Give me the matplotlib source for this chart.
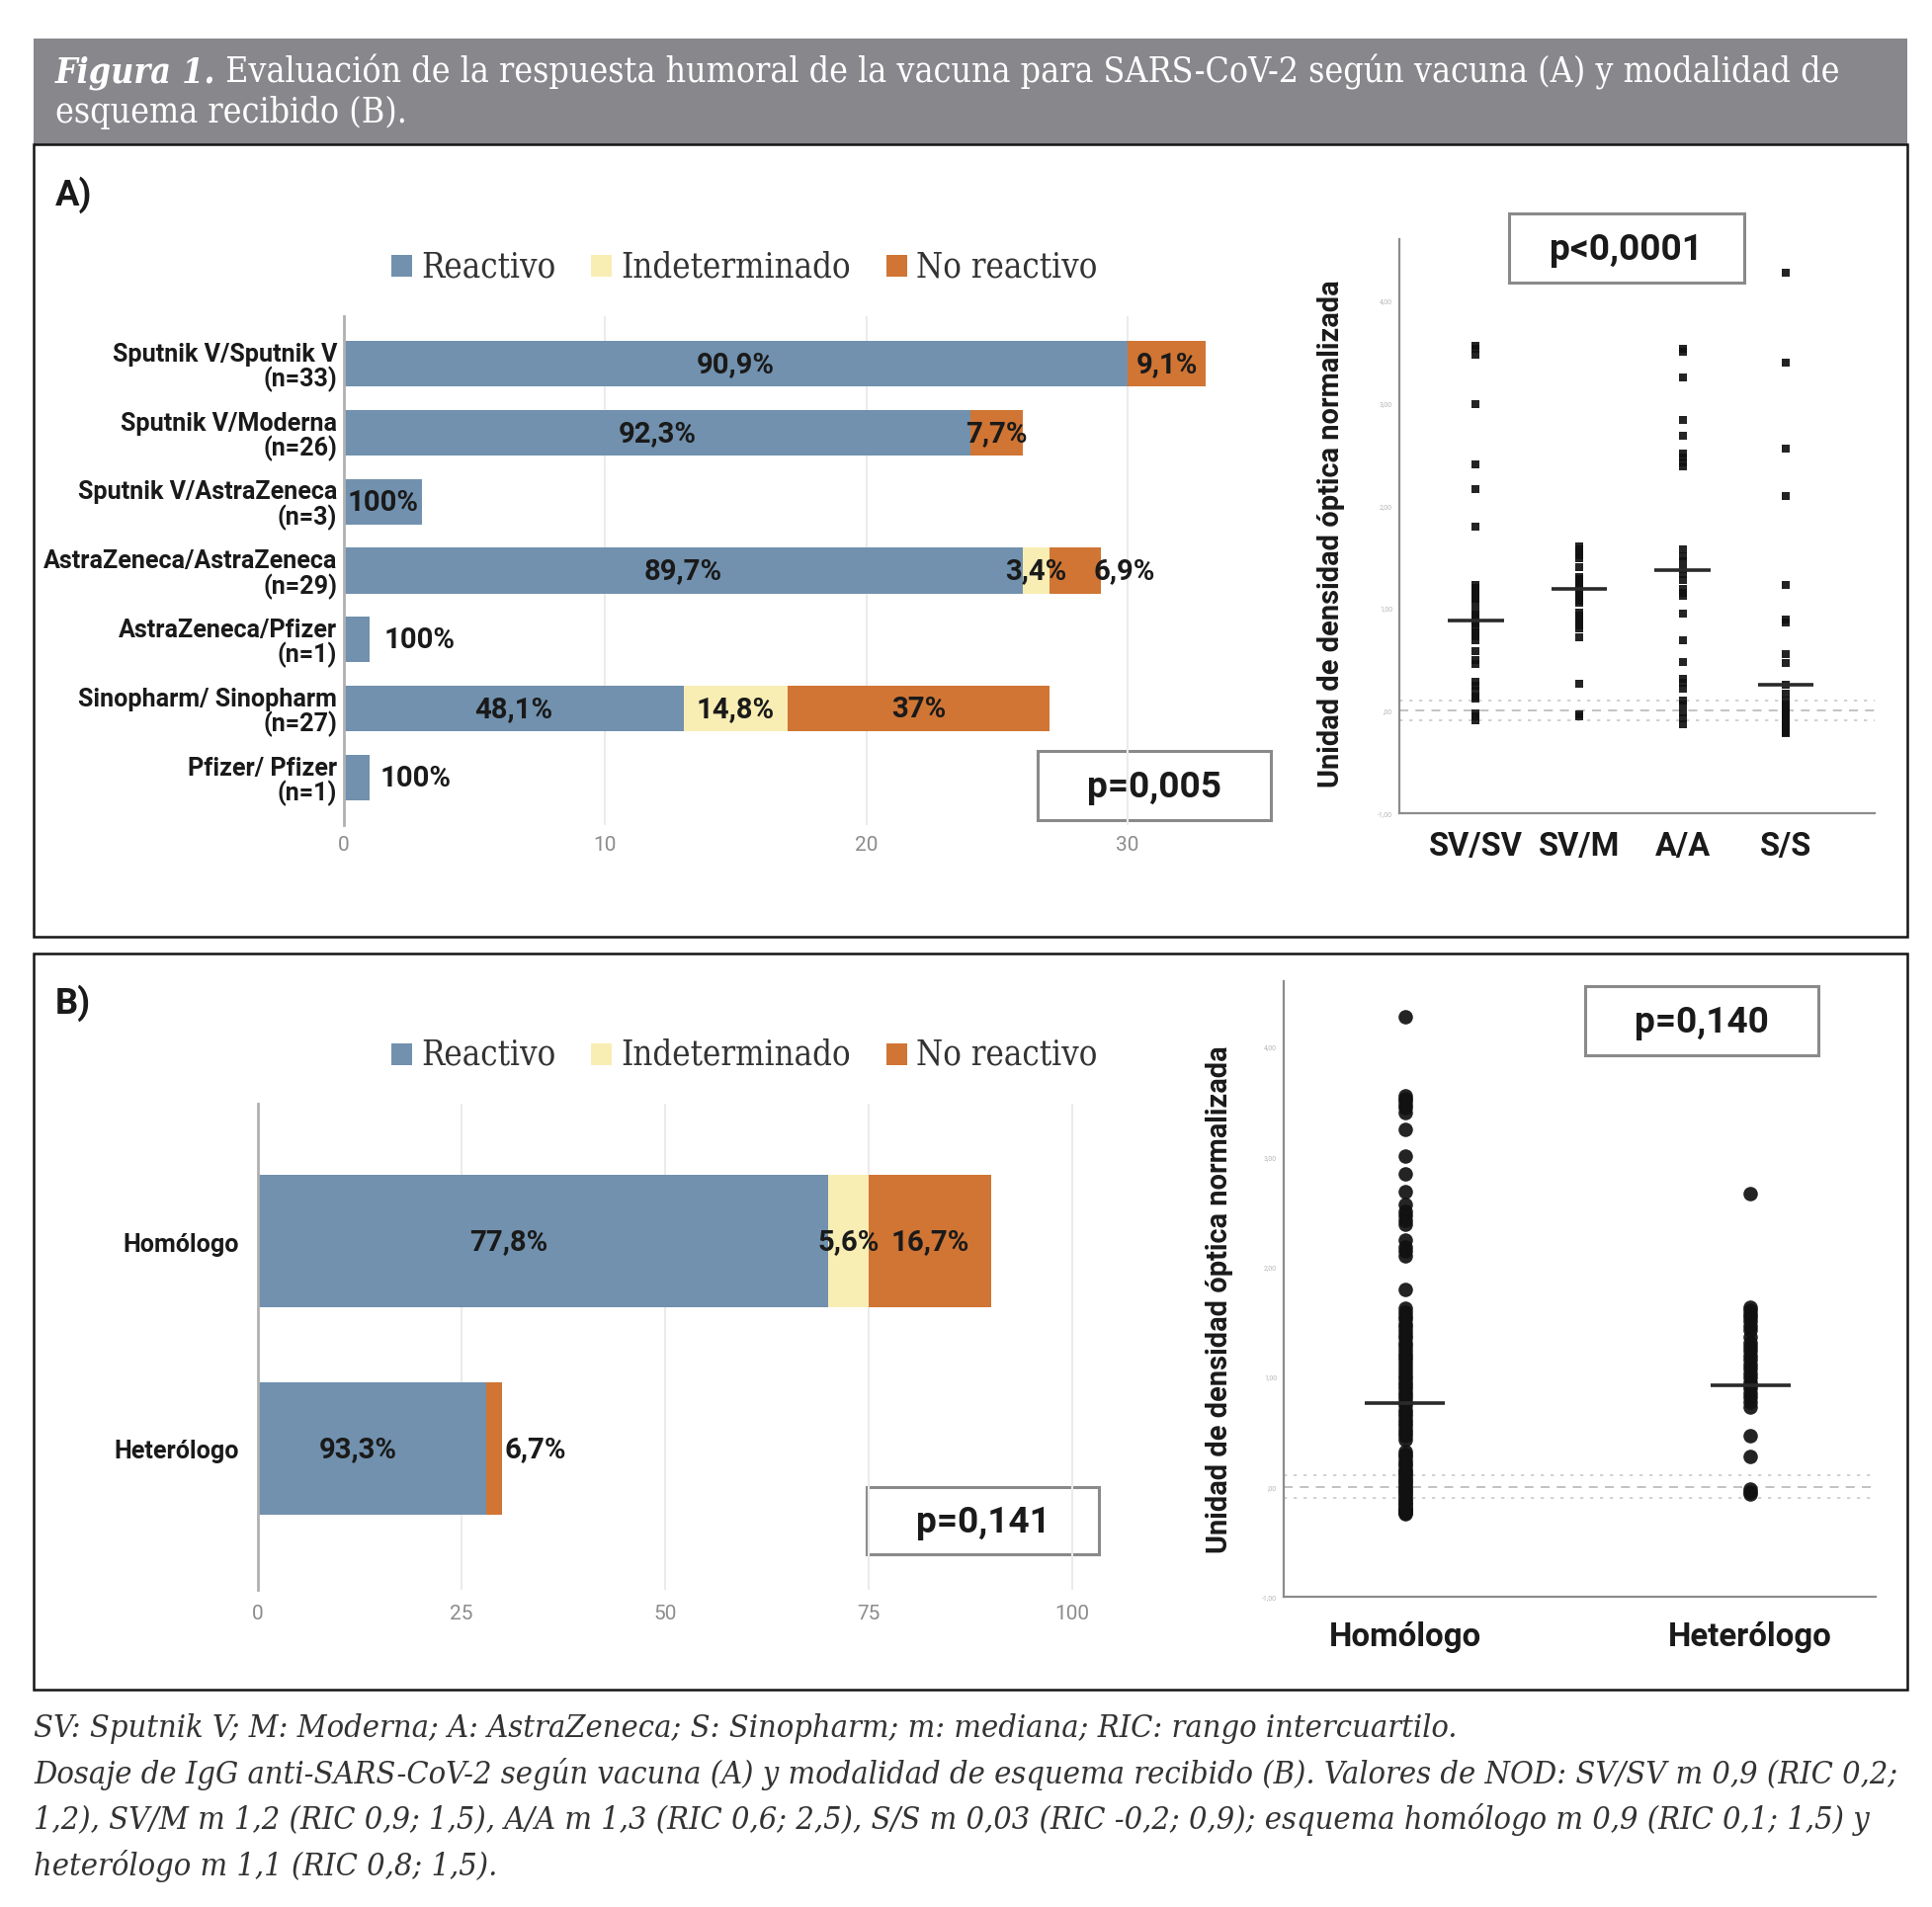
import matplotlib
matplotlib.use('Agg')
import matplotlib.pyplot as plt
from matplotlib.patches import Rectangle
from matplotlib import font_manager as fm
import numpy as np

plt.rcParams['font.family'] = ['Roboto', 'DejaVu Sans']

# ---------------- data ----------------
schemes_a = ['Sputnik V/Sputnik V\n(n=33)', 'Sputnik V/Moderna\n(n=26)',
             'Sputnik V/AstraZeneca\n(n=3)', 'AstraZeneca/AstraZeneca\n(n=29)',
             'AstraZeneca/Pfizer\n(n=1)', 'Sinopharm/ Sinopharm\n(n=27)',
             'Pfizer/ Pfizer\n(n=1)']
reactivo_a = [30, 24, 3, 26, 1, 13, 1]
indet_a = [0, 0, 0, 1, 0, 4, 0]
noreact_a = [3, 2, 0, 2, 0, 10, 0]
pct_reactivo_a = ['90,9%', '92,3%', '100%', '89,7%', '100%', '48,1%', '100%']
pct_indet_a = ['', '', '', '3,4%', '', '14,8%', '']
pct_noreact_a = ['9,1%', '7,7%', '', '6,9%', '', '37%', '']
xticks_a = [0, 10, 20, 30]

schemes_b = ['Homólogo', 'Heterólogo']
reactivo_b = [70, 28]
indet_b = [5, 0]
noreact_b = [15, 2]
pct_reactivo_b = ['77,8%', '93,3%']
pct_indet_b = ['5,6%', '']
pct_noreact_b = ['16,7%', '6,7%']
xticks_b = [0, 25, 50, 75, 100]

legend_labels = ['Reactivo', 'Indeterminado', 'No reactivo']

groups_a = ['SV/SV', 'SV/M', 'A/A', 'S/S']
nod_sv_sv = [3.55, 3.52, 3.46, 2.98, 2.40, 2.16, 1.79, 1.22, 1.19, 1.16, 1.13,
             1.09, 1.05, 0.97, 0.93, 0.90, 0.88, 0.85, 0.80, 0.76, 0.72, 0.68,
             0.58, 0.49, 0.45, 0.28, 0.24, 0.19, 0.14, 0.12, -0.03, -0.06, -0.10]
nod_sv_m = [1.60, 1.57, 1.54, 1.51, 1.48, 1.40, 1.30, 1.28, 1.25, 1.22, 1.20,
            1.17, 1.13, 1.10, 1.07, 1.05, 0.95, 0.92, 0.89, 0.86, 0.83, 0.80,
            0.71, 0.26, -0.04, -0.06]
nod_a_a = [3.52, 3.49, 3.24, 2.83, 2.68, 2.50, 2.46, 2.42, 2.38, 1.57, 1.50,
           1.45, 1.38, 1.33, 1.27, 1.18, 1.15, 1.12, 0.94, 0.68, 0.47, 0.31,
           0.27, 0.21, 0.10, 0.06, -0.02, -0.08, -0.13]
nod_s_s = [4.26, 3.39, 2.55, 2.09, 1.22, 0.89, 0.86, 0.55, 0.46, 0.25, 0.16,
           0.10, 0.06, 0.03, 0.01, -0.03, -0.05, -0.08, -0.10, -0.14, -0.16,
           -0.18, -0.20, -0.22, -0.19, -0.21, -0.17]
medians_a = [0.88, 1.18, 1.37, 0.25]

groups_b = ['Homólogo', 'Heterólogo']
nod_hom = [4.27, 3.55, 3.52, 3.50, 3.47, 3.44, 3.40, 3.24, 3.00, 2.84, 2.68,
           2.56, 2.50, 2.46, 2.42, 2.38, 2.24, 2.18, 2.14, 2.10, 1.79,
           1.62, 1.58, 1.55, 1.52, 1.48, 1.45, 1.41, 1.38, 1.35, 1.31, 1.28,
           1.24, 1.21, 1.18, 1.15, 1.12, 1.08, 1.05, 1.01, 0.98, 0.95, 0.92,
           0.89, 0.86, 0.83, 0.80, 0.77, 0.74, 0.70, 0.67, 0.64, 0.61, 0.58,
           0.55, 0.52, 0.49, 0.46, 0.43,
           0.32, 0.29, 0.27, 0.24, 0.21, 0.19, 0.16, 0.14, 0.12, 0.10, 0.08,
           0.06, 0.04, 0.02, 0.00, -0.02, -0.04, -0.06, -0.08, -0.10, -0.12,
           -0.14, -0.16, -0.17, -0.19, -0.20, -0.21, -0.22, -0.23, -0.24, -0.25]
nod_het = [2.66, 1.63, 1.60, 1.57, 1.54, 1.50, 1.46, 1.42, 1.36, 1.31, 1.27,
           1.23, 1.19, 1.15, 1.11, 1.07, 1.03, 0.99, 0.95, 0.92, 0.89, 0.85,
           0.81, 0.77, 0.72, 0.46, 0.27, -0.02, -0.05, -0.07]
medians_b = [0.76, 0.92]

nod_ticks = [-1, 0, 1, 2, 3, 4]
nod_tick_labels = ['-1,00', ',00', '1,00', '2,00', '3,00', '4,00']
p_values = ['p=0,005', 'p<0,0001', 'p=0,141', 'p=0,140']

title_pieces = [('Figura 1.', 'bold', 'italic'),
                (' Evaluación de la respuesta humoral de la vacuna para SARS-CoV-2 según vacuna (A) y modalidad de', 'normal', 'normal')]
title_line2 = 'esquema recibido (B).'
caption_lines = [
    'SV: Sputnik V; M: Moderna; A: AstraZeneca; S: Sinopharm; m: mediana; RIC: rango intercuartilo.',
    'Dosaje de IgG anti-SARS-CoV-2 según vacuna (A) y modalidad de esquema recibido (B). Valores de NOD: SV/SV m 0,9 (RIC 0,2;',
    '1,2), SV/M m 1,2 (RIC 0,9; 1,5), A/A m 1,3 (RIC 0,6; 2,5), S/S m 0,03 (RIC -0,2; 0,9); esquema homólogo m 0,9 (RIC 0,1; 1,5) y',
    'heterólogo m 1,1 (RIC 0,8; 1,5).',
]
ylabel_nod = 'Unidad de densidad óptica normalizada'

# ---------------- style ----------------
C_R, C_I, C_N = '#7191AE', '#F8EDB3', '#D07534'
_entries = fm.fontManager.ttflist
_names = {f.name for f in _entries}
if 'DejaVu Serif Condensed' in _names:
    SERIF_KW = dict(family=['DejaVu Serif Condensed', 'DejaVu Serif'])
elif any(f.name == 'DejaVu Serif' and 'condensed' in str(f.stretch) for f in _entries):
    SERIF_KW = dict(family=['DejaVu Serif'], fontstretch='condensed')
else:
    SERIF_KW = dict(family=['DejaVu Serif'])
SANS = ['Roboto', 'DejaVu Sans']

W, H = 1955, 1931
fig = plt.figure(figsize=(W / 100, H / 100), dpi=100)
fig.patch.set_facecolor('white')
bg = fig.add_axes([0, 0, 1, 1], zorder=0)
bg.set_xlim(0, W)
bg.set_ylim(H, 0)
bg.axis('off')
renderer = fig.canvas.get_renderer()


def axrect(x0, y0, x1, y1):
    return [x0 / W, 1 - y1 / H, (x1 - x0) / W, (y1 - y0) / H]


def fit_fs(s, target, **kw):
    t = bg.text(0, 0, s, fontsize=10, **kw)
    w = t.get_window_extent(renderer).width
    t.remove()
    return 10 * target / w


# header and panel frames
bg.add_patch(Rectangle((34, 40), 1896, 107, color='#88878C', lw=0))
bg.add_patch(Rectangle((34, 147), 1896, 802, fill=False, ec='#151515', lw=1.8))
bg.add_patch(Rectangle((34, 966), 1896, 745, fill=False, ec='#151515', lw=1.8))

# title (rich text, fitted to width)
tmp_w = 0
for s, wgt, sty in title_pieces:
    t = bg.text(0, 0, s, fontsize=10, fontweight=wgt, fontstyle=sty, **SERIF_KW)
    tmp_w += t.get_window_extent(renderer).width
    t.remove()
fs_title = 10 * 1800 / tmp_w
cx = 56
for s, wgt, sty in title_pieces:
    t = bg.text(cx, 83, s, fontsize=fs_title, fontweight=wgt, fontstyle=sty,
                color='white', va='baseline', ha='left', **SERIF_KW)
    cx += t.get_window_extent(renderer).width
bg.text(56, 124, title_line2, fontsize=fs_title, color='white',
        va='baseline', ha='left', **SERIF_KW)

# caption
fs_cap = fit_fs(caption_lines[1], 1890, fontstyle='italic', **SERIF_KW)
for line, yb in zip(caption_lines, [1758, 1805, 1851, 1898]):
    bg.text(34, yb, line, fontsize=fs_cap, fontstyle='italic',
            color='#333333', va='baseline', ha='left', **SERIF_KW)

# panel letters
fs_letter = fit_fs('B)', 36, family=SANS, fontweight='bold')
bg.text(56, 197, 'A)', fontsize=fs_letter, family=SANS, fontweight='bold',
        color='#1a1a1a', va='center', ha='left')
bg.text(56, 1015, 'B)', fontsize=fs_letter, family=SANS, fontweight='bold',
        color='#1a1a1a', va='center', ha='left')

# legends
fs_leg = fit_fs('Indeterminado', 232, **SERIF_KW)
for ycen in (270, 1068):
    x = 396
    for lab, col in zip(legend_labels, [C_R, C_I, C_N]):
        bg.add_patch(Rectangle((x, ycen - 11), 21, 22, color=col, lw=0))
        t = bg.text(x + 30, ycen, lab, fontsize=fs_leg,
                    color='#333333', va='center', ha='left', **SERIF_KW)
        x = x + 30 + t.get_window_extent(renderer).width + 36

# p-value boxes
fs_p = fit_fs('p<0,0001', 154, family=SANS, fontweight='bold')
for (x0, y0, x1, y1), ptxt in zip([(1050, 761, 1286, 831), (1527, 217, 1765, 287),
                                   (877, 1506, 1112, 1574), (1604, 999, 1840, 1069)],
                                  p_values):
    bg.add_patch(Rectangle((x0, y0), x1 - x0, y1 - y0, fc='white', ec='#8a8a8a', lw=2.2))
    bg.text((x0 + x1) / 2, (y0 + y1) / 2 + 1, ptxt, fontsize=fs_p, family=SANS,
            fontweight='bold', color='#1a1a1a', ha='center', va='center')

fs_cat = fit_fs('Sputnik V/Sputnik V', 228, family=SANS, fontweight='bold')
fs_val = fit_fs('90,9%', 79, family=SANS, fontweight='bold')


def stacked(ax, cats, r, i, n, pr, pi, pn, outside, center_frac_r, hgt):
    y = np.arange(len(cats))
    r = np.array(r); i = np.array(i); n = np.array(n)
    ax.barh(y, r, height=hgt, color=C_R, lw=0, zorder=2)
    ax.barh(y, i, left=r, height=hgt, color=C_I, lw=0, zorder=2)
    ax.barh(y, n, left=r + i, height=hgt, color=C_N, lw=0, zorder=2)
    for k in range(len(cats)):
        segs = [(0, r[k], pr[k]), (r[k], i[k], pi[k]), (r[k] + i[k], n[k], pn[k])]
        for si, (left, width, lab) in enumerate(segs):
            if not lab:
                continue
            if (k, si) in outside:
                ax.text(left + width + outside[(k, si)], k, lab, fontsize=fs_val,
                        fontweight='bold', color='#1a1a1a', ha='left', va='center', zorder=3)
            else:
                frac = center_frac_r if si == 0 else 0.5
                ax.text(left + width * frac, k, lab, fontsize=fs_val, fontweight='bold',
                        color='#1a1a1a', ha='center', va='center', zorder=3)


def bar_axes_style(ax):
    ax.patch.set_alpha(0)
    ax.tick_params(axis='y', length=0)
    ax.grid(axis='x', color='#ebebeb', lw=1.5, zorder=0)
    for sp in ['top', 'right', 'bottom']:
        ax.spines[sp].set_visible(False)
    ax.spines['left'].set_color('#b0b0b0')
    ax.spines['left'].set_linewidth(2)


# ---- Panel A bar chart ----
axA = fig.add_axes(axrect(348, 321, 1273, 836), zorder=2)
stacked(axA, schemes_a, reactivo_a, indet_a, noreact_a, pct_reactivo_a, pct_indet_a,
        pct_noreact_a, {(3, 2): -0.3, (4, 0): 0.55, (6, 0): 0.4}, 0.5, 0.66)
axA.set_xlim(0, 35)
axA.set_ylim(len(schemes_a) - 1 + 0.69, -0.69)
axA.set_xticks(xticks_a)
axA.set_yticks(np.arange(len(schemes_a)))
axA.set_yticklabels(schemes_a, fontsize=fs_cat, fontweight='bold', linespacing=1.0,
                    color='#1a1a1a')
bar_axes_style(axA)
axA.tick_params(axis='y', pad=5)
axA.tick_params(axis='x', length=0, pad=7, labelsize=15, labelcolor='#8c8c8c')

# ---- Panel B bar chart ----
axB = fig.add_axes(axrect(261, 1118, 261 + 105 * 8.24, 1610), zorder=2)
stacked(axB, schemes_b, reactivo_b, indet_b, noreact_b, pct_reactivo_b, pct_indet_b,
        pct_noreact_b, {(1, 2): 0.3}, 0.44, 0.64)
axB.set_xlim(0, 105)
axB.set_ylim(1.681, -0.662)
axB.set_xticks(xticks_b)
axB.set_yticks(np.arange(len(schemes_b)))
axB.set_yticklabels(schemes_b, fontsize=fs_cat, fontweight='bold', color='#1a1a1a')
bar_axes_style(axB)
axB.tick_params(axis='y', pad=14)
axB.tick_params(axis='x', length=0, pad=10, labelsize=15, labelcolor='#8c8c8c')


# ---- dot plots ----
def dotplot(ax, groups, data, medians, marker, ms, half, lab_fs, lab_pad):
    ax.patch.set_alpha(0)
    for k, vals in enumerate(data):
        ax.plot(np.full(len(vals), k), vals, marker, ms=ms, color='#111111',
                mew=0, alpha=0.92, zorder=3, ls='none')
    xs = np.arange(len(groups))
    ax.hlines(medians, xs - half, xs + half, color='#2a2a2a', lw=2.6, zorder=4)
    ax.axhline(0, ls=(0, (5, 4)), color='#bdbdbd', lw=1.3, zorder=1)
    ax.axhline(0.1, ls=(0, (2, 4)), color='#cacaca', lw=1.2, zorder=1)
    ax.axhline(-0.1, ls=(0, (2, 4)), color='#cacaca', lw=1.2, zorder=1)
    ax.set_ylim(-1.0, 4.59)
    ax.set_yticks(nod_ticks)
    ax.set_yticklabels(nod_tick_labels)
    ax.tick_params(axis='y', length=0, pad=5, labelsize=5, labelcolor='#b5b5b5')
    ax.set_xticks(xs)
    ax.set_xticklabels(groups, fontsize=lab_fs, fontweight='bold', color='#1a1a1a')
    ax.tick_params(axis='x', length=0, pad=lab_pad)
    for sp in ['top', 'right']:
        ax.spines[sp].set_visible(False)
    for sp in ['left', 'bottom']:
        ax.spines[sp].set_color('#8c8c8c')
        ax.spines[sp].set_linewidth(1.6)


fs_grpA = fit_fs('SV/SV', 95, family=SANS, fontweight='bold')
fs_grpB = fit_fs('Homólogo', 154, family=SANS, fontweight='bold')
fs_ylab = fit_fs(ylabel_nod, 516, family=SANS, fontweight='bold')

axDA = fig.add_axes(axrect(1416, 243, 1897, 824), zorder=2)
dotplot(axDA, groups_a, [nod_sv_sv, nod_sv_m, nod_a_a, nod_s_s], medians_a,
        's', 5.2, 0.27, fs_grpA, 12)
axDA.set_xlim(-0.74, 3.86)

axDB = fig.add_axes(axrect(1299, 994, 1898, 1617), zorder=2)
dotplot(axDB, groups_b, [nod_hom, nod_het], medians_b, 'o', 10.5, 0.116, fs_grpB, 17)
axDB.set_xlim(-0.352, 1.363)

bg.text(1347, 540, ylabel_nod, rotation=90, fontsize=fs_ylab, fontweight='bold',
        family=SANS, color='#1a1a1a', ha='center', va='center')
bg.text(1234, 1315, ylabel_nod, rotation=90, fontsize=fs_ylab, fontweight='bold',
        family=SANS, color='#1a1a1a', ha='center', va='center')

fig.savefig('out.png', dpi=100, facecolor='white')
